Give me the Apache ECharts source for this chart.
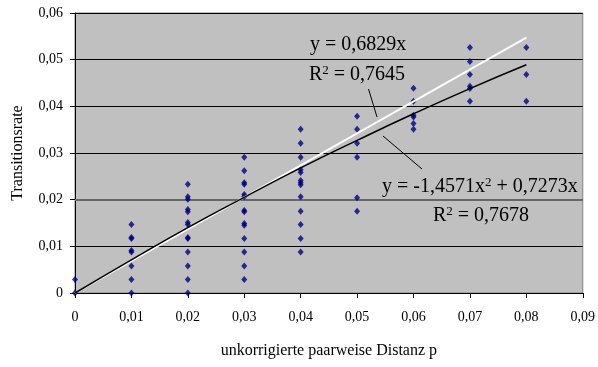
<!DOCTYPE html>
<html><head><meta charset="utf-8">
<script src="https://cdn.jsdelivr.net/npm/echarts@6/dist/echarts.min.js"></script>
<style>html,body{margin:0;padding:0;background:#fff}#c{width:598px;height:367px}</style>
</head><body><div id="c"></div>
<script>
// Observed points: x position and the y values in that column
const xPositions = [0, 0.01, 0.02, 0.03, 0.04, 0.05, 0.06, 0.07, 0.08];
const col0 = [0, 0.0029];
const col1 = [0, 0.0029, 0.0058, 0.0088, 0.0091, 0.0117, 0.0119, 0.0147];
const col2 = [0, 0.0029, 0.0058, 0.0088, 0.0117, 0.0119, 0.0147, 0.0151, 0.0174, 0.0179, 0.0201, 0.0206, 0.0233];
const col3 = [0.0029, 0.0058, 0.0088, 0.0117, 0.0145, 0.0149, 0.0174, 0.0177, 0.0206, 0.0211, 0.0233, 0.0236, 0.0262, 0.0291];
const col4 = [0.0088, 0.0117, 0.0147, 0.0175, 0.0206, 0.0232, 0.0236, 0.0241, 0.0258, 0.0264, 0.0291, 0.0321, 0.0351];
const col5 = [0.0175, 0.0204, 0.0291, 0.0321, 0.0351, 0.0379];
const col6 = [0.0351, 0.0363, 0.0377, 0.0381, 0.0411, 0.0439];
const col7 = [0.0411, 0.0438, 0.0443, 0.0468, 0.0496, 0.0526];
const col8 = [0.0411, 0.0468, 0.0526];
const columns = [col0, col1, col2, col3, col4, col5, col6, col7, col8];

// Trendlines
const linX = [0, 0.08];
const linY = [0, 0.0547];
const polyX = [0, 0.01, 0.02, 0.03, 0.04, 0.05, 0.06, 0.07, 0.08];
const polyY = [0, 0.0071, 0.0140, 0.0205, 0.0268, 0.0327, 0.0384, 0.0438, 0.0489];

// Texts
const xTitle = 'unkorrigierte paarweise Distanz p';
const yTitle = 'Transitionsrate';
const linEq = '{t|y = 0,6829x}';
const linR2 = '{t|R}{s|2}{t| = 0,7645}';
const polyEq = '{t|y = -1,4571x}{s|2}{t| + 0,7273x}';
const polyR2 = '{t|R}{s|2}{t| = 0,7678}';

const points = [];
columns.forEach((c, i) => c.forEach(v => points.push([xPositions[i], v])));
const linData = linX.map((x, i) => [x, linY[i]]);
const polyData = polyX.map((x, i) => [x, polyY[i]]);

const fmt = v => v === 0 ? '0' : v.toFixed(2).replace('.', ',');
const FONT = '"Liberation Serif", "Times New Roman", serif';
const rich = {
  t: {fontFamily: FONT, fontSize: 20, fill: '#000', color: '#000', lineHeight: 22},
  s: {fontFamily: FONT, fontSize: 13, fill: '#000', color: '#000', verticalAlign: 'top', lineHeight: 22, padding: [0, 0, 8, 0]}
};
const txt = (text, left, top) => ({type: 'text', left, top, z: 10, style: {text, rich, fill: '#000'}});

const chart = echarts.init(document.getElementById('c'), null, {renderer: 'canvas'});
chart.setOption({
  animation: false,
  backgroundColor: '#fff',
  grid: {left: 75, right: 15, top: 13, bottom: 74, show: true, backgroundColor: '#C0C0C0', borderWidth: 1, borderColor: '#808080'},
  xAxis: {
    type: 'value', min: 0, max: 0.09, interval: 0.01,
    name: xTitle, nameLocation: 'middle', nameGap: 58,
    nameTextStyle: {fontFamily: FONT, fontSize: 16, color: '#000', verticalAlign: 'middle'},
    axisLine: {lineStyle: {color: '#000', width: 1}},
    axisTick: {show: true, length: 5, lineStyle: {color: '#000'}},
    axisLabel: {formatter: fmt, fontFamily: FONT, fontSize: 14, color: '#000', margin: 17},
    splitLine: {show: false}
  },
  yAxis: {
    type: 'value', min: 0, max: 0.06, interval: 0.01,
    name: yTitle, nameLocation: 'middle', nameGap: 57, nameRotate: 90,
    nameTextStyle: {fontFamily: FONT, fontSize: 16, color: '#000', verticalAlign: 'middle'},
    axisLine: {show: true, lineStyle: {color: '#000', width: 1}},
    axisTick: {show: true, length: 5, lineStyle: {color: '#000'}},
    axisLabel: {formatter: fmt, fontFamily: FONT, fontSize: 14, color: '#000', margin: 12},
    splitLine: {show: true, lineStyle: {color: '#000', width: 1}}
  },
  series: [
    {type: 'scatter', data: points, symbol: 'diamond', symbolSize: [6, 7], itemStyle: {color: '#000080'}, z: 3,
     markLine: {silent: true, symbol: 'none', label: {show: false}, lineStyle: {color: '#666', width: 2, type: 'solid'}, data: [{yAxis: 0.02}], z: 1}},
    {type: 'line', data: linData, showSymbol: false, lineStyle: {color: '#fff', width: 2}, z: 4},
    {type: 'line', data: polyData, showSymbol: false, smooth: true, lineStyle: {color: '#000', width: 1.5}, z: 5}
  ],
  graphic: [
    txt(linEq, 310, 35),
    txt(linR2, 309, 64),
    txt(polyEq, 382, 176),
    txt(polyR2, 433, 205),
    {type: 'line', shape: {x1: 368.5, y1: 89, x2: 377, y2: 117}, style: {stroke: '#000', lineWidth: 1}, z: 10},
    {type: 'line', shape: {x1: 383, y1: 136, x2: 422, y2: 169}, style: {stroke: '#000', lineWidth: 1}, z: 10}
  ]
});
</script></body></html>
